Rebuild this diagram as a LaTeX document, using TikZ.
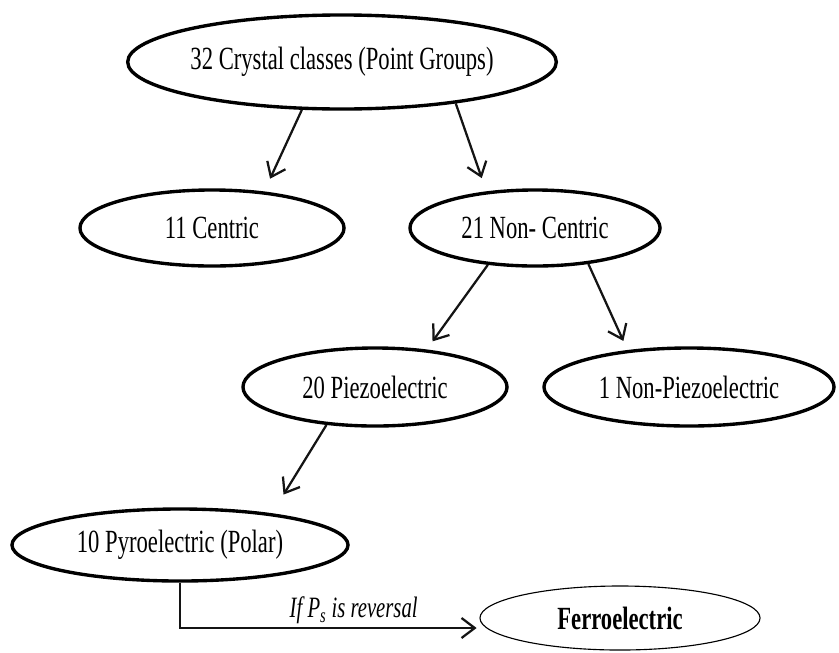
\documentclass[tikz,border=0pt]{standalone}
\usepackage{fontspec}
\setmainfont{Liberation Serif}[FakeStretch=0.7]
\usepackage{xcolor}
\definecolor{NodeBorder}{RGB}{0,0,0}
\definecolor{EdgeColor}{RGB}{20,20,20}
\usetikzlibrary{
  positioning,
  arrows.meta,
  shapes.geometric,
  calc
}
\tikzset{
  % Crystal class node
  cnode/.style={
    ellipse,
    draw=NodeBorder,
    line width=2.4pt,
    inner sep=0pt,
    font=\fontsize{23}{26}\selectfont
  },
  % Thin node (last one)
  fnode/.style={
    ellipse,
    draw=NodeBorder,
    line width=0.8pt,
    inner sep=0pt,
    font=\fontsize{23}{26}\selectfont\bfseries
  },
  % Directed edge
  dedge/.style={
    draw=EdgeColor,
    line width=1.6pt,
    -{Straight Barb[length=3.3mm,width=5mm]}
  },
  % Edge label
  elabel/.style={
    font=\fontsize{21}{24}\selectfont\itshape,
    inner sep=2pt
  }
}
\begin{document}
\begin{tikzpicture}[x=0.025cm, y=-0.025cm]
  \useasboundingbox (0,0) rectangle (839,652);
  % nodes
  \node[cnode, minimum width=10.1cm, minimum height=2.35cm] (top) at (342,62) {32 Crystal classes (Point Groups)};
  \node[cnode, minimum width=6.6cm, minimum height=1.9cm] (centric) at (212,228) {11 Centric};
  \node[cnode, minimum width=6.25cm, minimum height=1.9cm] (noncentric) at (535,228) {21 Non- Centric};
  \node[cnode, minimum width=6.6cm, minimum height=1.95cm] (piezo) at (375,387) {20 Piezoelectric};
  \node[cnode, minimum width=7.25cm, minimum height=1.95cm] (nonpiezo) at (689,387) {1 Non-Piezoelectric};
  \node[cnode, minimum width=8.4cm, minimum height=1.8cm] (pyro) at (180,545) {10 Pyroelectric (Polar)};
  \node[fnode, minimum width=7cm, minimum height=1.6cm] (ferro) at (620,618) {Ferroelectric};
  % edges
  \draw[dedge, shorten >=0.35cm] (top.230) -- (centric.35);
  \draw[dedge, shorten >=0.35cm] (top.340) -- (noncentric.143);
  \draw[dedge, shorten >=0.25cm] (noncentric.218) -- (piezo.36);
  \draw[dedge, shorten >=0.25cm] (noncentric.326) -- (nonpiezo.149);
  \draw[dedge, shorten >=0.55cm] (piezo.218) -- (pyro.19);
  \draw[dedge, shorten >=2pt] (pyro.south) |- ([yshift=-0.25cm]ferro.west)
    node[elabel, pos=0.79, above] (cond) {If P\textsubscript{s} is reversal};
\end{tikzpicture}
\end{document}
